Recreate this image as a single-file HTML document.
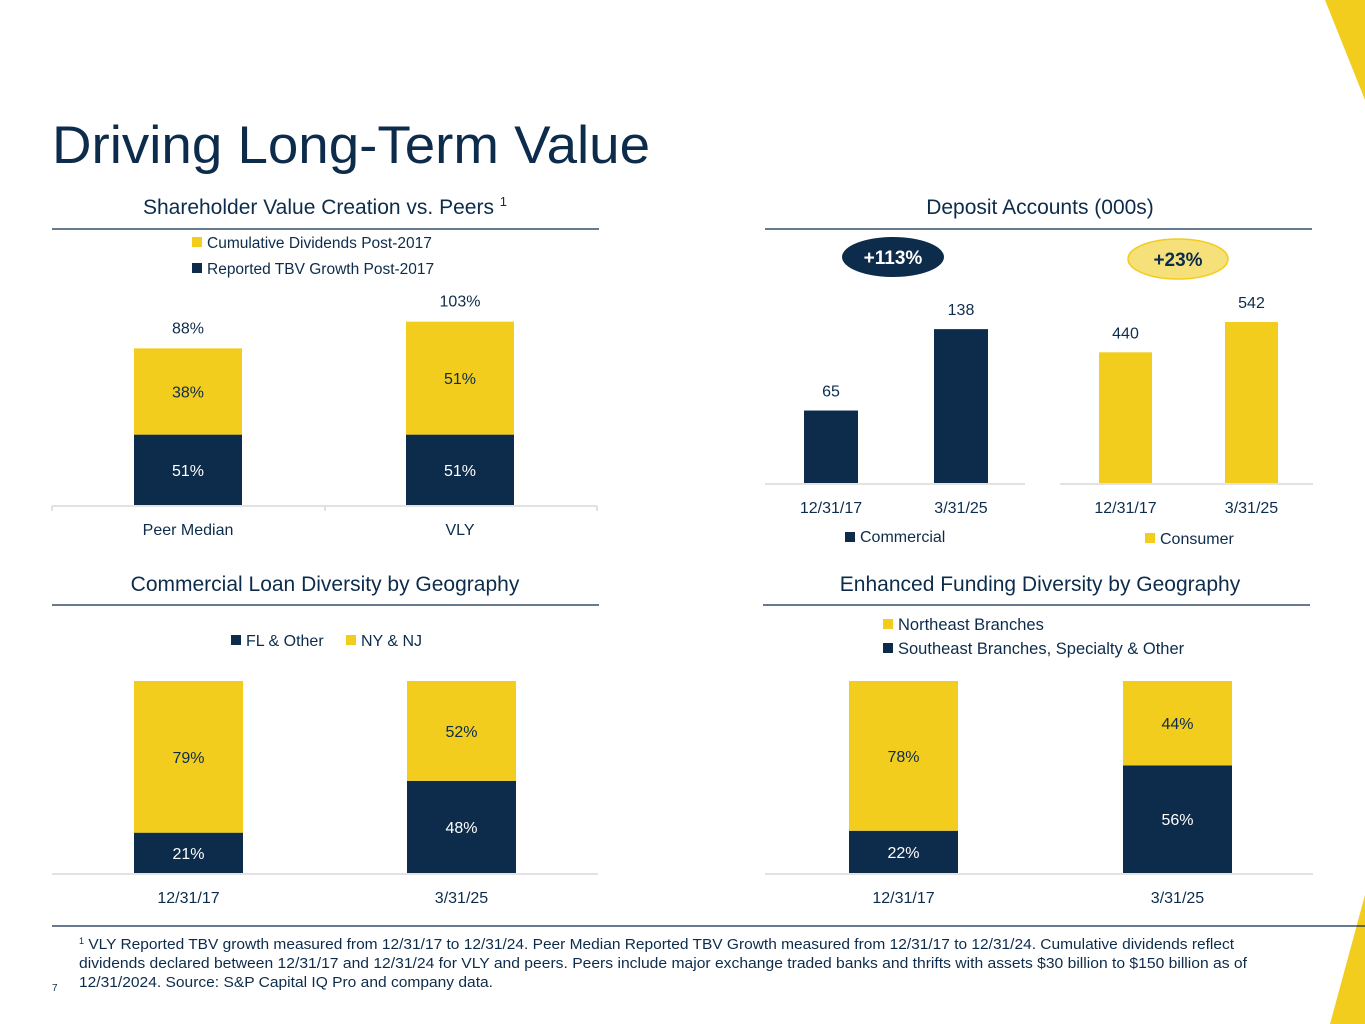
<!DOCTYPE html>
<html><head><meta charset="utf-8"><style>
body{margin:0;background:#fff;}
svg{display:block;font-family:"Liberation Sans",sans-serif;}
</style></head><body>
<svg id="s" width="1365" height="1024" viewBox="0 0 1365 1024" xmlns="http://www.w3.org/2000/svg">
<polygon points="1325,0 1365,0 1365,100" fill="#f2cd1e"/>
<polygon points="1365,895 1365,1024 1330,1024" fill="#f2cd1e"/>
<text x="52" y="163" font-size="53" fill="#0d2c4b" textLength="598" lengthAdjust="spacingAndGlyphs">Driving Long-Term Value</text>

<text x="325" y="214" font-size="21" fill="#0d2c4b" text-anchor="middle">Shareholder Value Creation vs. Peers <tspan font-size="13" dy="-8">1</tspan></text>
<line x1="52" y1="229" x2="599" y2="229" stroke="#0d2c4b" stroke-width="1.2"/>
<text x="1040" y="214" font-size="21" fill="#0d2c4b" text-anchor="middle">Deposit Accounts (000s)</text>
<line x1="765" y1="229" x2="1312" y2="229" stroke="#0d2c4b" stroke-width="1.2"/>
<text x="325" y="591" font-size="21" fill="#0d2c4b" text-anchor="middle">Commercial Loan Diversity by Geography</text>
<line x1="52" y1="605" x2="599" y2="605" stroke="#0d2c4b" stroke-width="1.2"/>
<text x="1040" y="591" font-size="21" fill="#0d2c4b" text-anchor="middle">Enhanced Funding Diversity by Geography</text>
<line x1="763" y1="605" x2="1310" y2="605" stroke="#0d2c4b" stroke-width="1.2"/>

<ellipse cx="893" cy="257" rx="51" ry="20" fill="#0d2c4b"/>
<text x="893" y="264" font-size="19" font-weight="bold" fill="#fff" text-anchor="middle">+113%</text>
<ellipse cx="1178" cy="259" rx="50" ry="20" fill="#f5e07a" stroke="#f2cd1e" stroke-width="1.5"/>
<text x="1178" y="266" font-size="19" font-weight="bold" fill="#0d2c4b" text-anchor="middle">+23%</text>

<rect x="192" y="237" width="10" height="10" fill="#f2cd1e"/>
<text x="207" y="248" font-size="15.5" fill="#0d2c4b">Cumulative Dividends Post-2017</text>
<rect x="192" y="263" width="10" height="10" fill="#0d2c4b"/>
<text x="207" y="274" font-size="15.5" fill="#0d2c4b">Reported TBV Growth Post-2017</text>
<rect x="845" y="532" width="10" height="10" fill="#0d2c4b"/>
<text x="860" y="542" font-size="16" fill="#0d2c4b">Commercial</text>
<rect x="1145" y="533" width="10" height="10" fill="#f2cd1e"/>
<text x="1160" y="544" font-size="16" fill="#0d2c4b">Consumer</text>
<rect x="231" y="635" width="10" height="10" fill="#0d2c4b"/>
<text x="246" y="646" font-size="16" fill="#0d2c4b">FL &amp; Other</text>
<rect x="346" y="635" width="10" height="10" fill="#f2cd1e"/>
<text x="361" y="646" font-size="16" fill="#0d2c4b">NY &amp; NJ</text>
<rect x="883" y="619" width="10" height="10" fill="#f2cd1e"/>
<text x="898" y="630" font-size="16.5" fill="#0d2c4b">Northeast Branches</text>
<rect x="883" y="643" width="10" height="10" fill="#0d2c4b"/>
<text x="898" y="654" font-size="16.5" fill="#0d2c4b">Southeast Branches, Specialty &amp; Other</text>

<g id="charts"></g>

<line x1="52" y1="926" x2="1365" y2="926" stroke="#0d2c4b" stroke-width="1.2"/>
<g font-size="15" fill="#0d2c4b">
<text x="79" y="949"><tspan font-size="9" dy="-5">1</tspan><tspan dy="5" textLength="1150" lengthAdjust="spacingAndGlyphs"> VLY Reported TBV growth measured from 12/31/17 to 12/31/24.  Peer Median Reported TBV Growth measured from 12/31/17 to 12/31/24.  Cumulative dividends reflect</tspan></text>
<text x="79" y="968" textLength="1168" lengthAdjust="spacingAndGlyphs">dividends declared between 12/31/17 and 12/31/24 for VLY and peers.  Peers include major exchange traded banks and thrifts with assets $30 billion to $150 billion as of</text>
<text x="79" y="987" textLength="414" lengthAdjust="spacingAndGlyphs">12/31/2024.  Source: S&amp;P Capital IQ Pro and company data.</text>
</g>
<text x="52" y="991" font-size="10" fill="#0d2c4b">7</text>
</svg>
<script>
const NAVY="#0d2c4b", YEL="#f2cd1e";
// Shareholder value
const svCategories=["Peer Median","VLY"];
const svTbv=[51,51];
const svDividends=[38,51];
const svTotals=[88,103];
// Deposit accounts
const depDates=["12/31/17","3/31/25"];
const depCommercial=[65,138];
const depConsumer=[440,542];
// Commercial loan
const clDates=["12/31/17","3/31/25"];
const clFl=[21,48];
const clNy=[79,52];
// Funding
const fdDates=["12/31/17","3/31/25"];
const fdSoutheast=[22,56];
const fdNortheast=[78,44];

const g=document.getElementById("charts");
const NS="http://www.w3.org/2000/svg";
function mk(tag,attrs,name){const e=document.createElementNS(NS,tag);for(const k in attrs)e.setAttribute(k,attrs[k]);


g.appendChild(e);return e;}
function txt(x,y,s,name,size,fill){const t=mk("text",{x:x,y:y,"font-size":size||16,fill:fill||NAVY,"text-anchor":"middle"},name);t.textContent=s;return t;}

function stacked(cfg){
  const {cats,lower,upper,xs,w,base,scale,totalScale,totals,axisX1,axisX2,lowerCol,upperCol,prefix,ticks}=cfg;
  cats.forEach((c,i)=>{
    const hl=lower[i]*scale, x=xs[i];
    const top = totals ? totals[i]*totalScale : hl+upper[i]*scale;
    const hu=top-hl;
    mk("rect",{x:x,y:base-hl,width:w,height:hl,fill:lowerCol},prefix+"-bar-lower-"+i);
    mk("rect",{x:x,y:base-top,width:w,height:hu,fill:upperCol},prefix+"-bar-upper-"+i);
    txt(x+w/2,base-hl/2+6,lower[i]+"%",prefix+"-value-lower-"+i,16,lowerCol===NAVY?"#fff":NAVY);
    txt(x+w/2,base-hl-hu/2+6,upper[i]+"%",prefix+"-value-upper-"+i,16,upperCol===NAVY?"#fff":NAVY);
    if(totals) txt(x+w/2,base-top-15,totals[i]+"%",prefix+"-total-"+i,16);
    txt(x+w/2,base+30,c,prefix+"-x-label-"+i,16);
  });
  mk("line",{x1:axisX1,y1:base+1,x2:axisX2,y2:base+1,stroke:"#d9d9d9","stroke-width":1.5},prefix+"-x-axis");
  if(ticks) ticks.forEach((t,j)=>mk("line",{x1:t,y1:base+1,x2:t,y2:base+6,stroke:"#d9d9d9","stroke-width":1.5},prefix+"-tick-"+j));
}
stacked({cats:svCategories,lower:svTbv,upper:svDividends,totals:svTotals,xs:[134,406],w:108,base:505,scale:1.38,totalScale:1.78,axisX1:52,axisX2:597,lowerCol:NAVY,upperCol:YEL,prefix:"sv",ticks:[52,325,597]});
stacked({cats:clDates,lower:clFl,upper:clNy,xs:[134,407],w:109,base:873,scale:1.92,axisX1:52,axisX2:598,lowerCol:NAVY,upperCol:YEL,prefix:"cl"});
stacked({cats:fdDates,lower:fdSoutheast,upper:fdNortheast,xs:[849,1123],w:109,base:873,scale:1.92,axisX1:765,axisX2:1313,lowerCol:NAVY,upperCol:YEL,prefix:"fd"});

function simple(vals,cats,xs,w,base,scale,col,prefix,ax1,ax2){
  vals.forEach((v,i)=>{const h=v*scale;
    mk("rect",{x:xs[i],y:base-h,width:w,height:h,fill:col},prefix+"-bar-"+i);
    txt(xs[i]+w/2,base-h-14,String(v),prefix+"-value-"+i,16);
    txt(xs[i]+w/2,base+30,cats[i],prefix+"-x-label-"+i,16);
  });
  mk("line",{x1:ax1,y1:base+1,x2:ax2,y2:base+1,stroke:"#d9d9d9","stroke-width":1.5},prefix+"-x-axis");
}
simple(depCommercial,depDates,[804,934],54,483,1.115,NAVY,"dep-commercial",765,1025);
simple(depConsumer,depDates,[1099,1225],53,483,0.297,YEL,"dep-consumer",1060,1313);
</script>
</body></html>
